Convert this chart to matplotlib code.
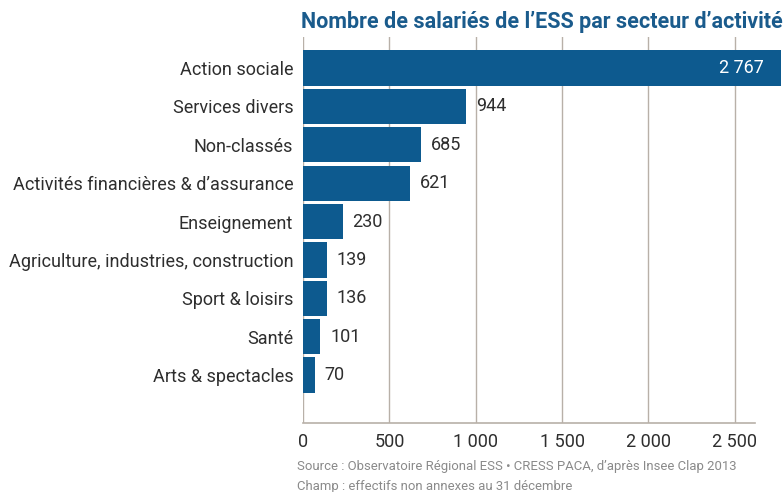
import matplotlib
matplotlib.use("Agg")
import matplotlib.pyplot as plt
from matplotlib import font_manager as fm

categories = ["Action sociale", "Services divers", "Non-classés",
              "Activités financières & d\u2019assurance", "Enseignement",
              "Agriculture, industries, construction", "Sport & loisirs",
              "Santé", "Arts & spectacles"]
values = [2767, 944, 685, 621, 230, 139, 136, 101, 70]
value_labels = ["2 767", "944", "685", "621", "230", "139", "136", "101", "70"]
xticks = [0, 500, 1000, 1500, 2000, 2500]
xtick_labels = ["0", "500", "1 000", "1 500", "2 000", "2 500"]

names = {f.name for f in fm.fontManager.ttflist}
fam = "Roboto" if "Roboto" in names else "Liberation Sans"
plt.rcParams['font.family'] = [fam, 'DejaVu Sans']

bar_color = "#0d5a8f"
title_color = "#1a5b8c"
text_color = "#2e2e2e"
grid_color = "#b8b0a8"
source_color = "#8a8a8a"

fig = plt.figure(figsize=(7.83, 4.92), dpi=100)
renderer = fig.canvas.get_renderer()


def fit_size(s, target_px, weight="normal", start=14):
    t = fig.text(0, 0, s, fontsize=start, fontweight=weight)
    w = t.get_window_extent(renderer).width
    t.remove()
    return start * target_px / w


label_fs = min(13.5, fit_size("Agriculture, industries, construction", 284))
title_fs = min(15.5, fit_size("Nombre de salariés de l\u2019ESS par secteur d\u2019activité", 492, "bold"))
source_fs = min(10, fit_size("Source : Observatoire Régional ESS \u2022 CRESS PACA, d\u2019après Insee Clap 2013", 440))

ax = fig.add_axes([0.387, 0.140, 0.577, 0.785])

y = list(range(len(categories)))
ax.barh(y, values, height=0.92, color=bar_color, clip_on=False, zorder=3)

ax.set_xlim(0, 2616)
ax.set_ylim(len(categories) - 1 + 1.25, -0.81)

for xv in xticks:
    ax.axvline(xv, color=grid_color, lw=1.0, zorder=1)

ax.set_xticks(xticks)
ax.set_xticklabels(xtick_labels, fontsize=label_fs, color=text_color)
ax.tick_params(axis='x', length=0, pad=7)
ax.set_yticks(y)
ax.set_yticklabels(categories, fontsize=label_fs, color=text_color)
ax.tick_params(axis='y', length=0, pad=7)

for s in ["top", "right", "left"]:
    ax.spines[s].set_visible(False)
ax.spines["bottom"].set_color(grid_color)
ax.spines["bottom"].set_linewidth(1.2)

for i, (v, lab) in enumerate(zip(values, value_labels)):
    if i == 0:
        ax.annotate(lab, (v, i), xytext=(-12, 0), textcoords="offset points",
                    ha="right", va="center", color="white", fontsize=label_fs,
                    annotation_clip=False, zorder=4)
    else:
        ax.annotate(lab, (v, i), xytext=(7, 0), textcoords="offset points",
                    ha="left", va="center", color=text_color, fontsize=label_fs, zorder=4)

fig.text(0.384, 0.955, "Nombre de salariés de l\u2019ESS par secteur d\u2019activité",
         fontsize=title_fs, fontweight="bold", color=title_color, ha="left", va="center")

fig.text(0.379, 0.051, "Source : Observatoire Régional ESS \u2022 CRESS PACA, d\u2019après Insee Clap 2013",
         fontsize=source_fs, color=source_color, ha="left", va="center")
fig.text(0.379, 0.012, "Champ : effectifs non annexes au 31 décembre",
         fontsize=source_fs, color=source_color, ha="left", va="center")

fig.savefig("out.png", dpi=100)
